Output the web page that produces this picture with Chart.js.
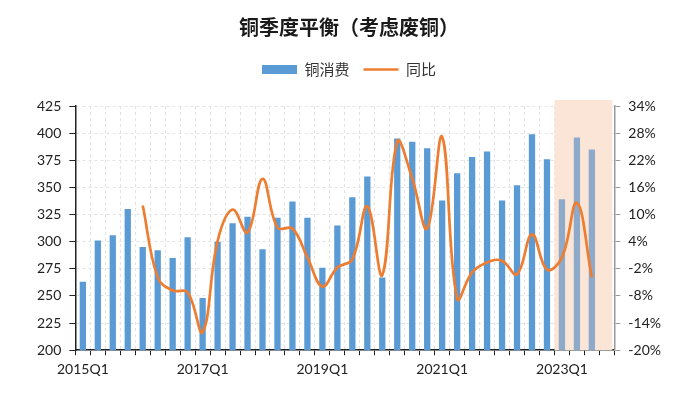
<!DOCTYPE html>
<html>
<head>
<meta charset="utf-8">
<script src="https://cdn.jsdelivr.net/npm/chart.js@4"></script>
<style>
  body { margin: 0; background: #fff; }
  #wrap { width: 700px; height: 407px; }
</style>
</head>
<body>
<div id="wrap"><canvas id="copper-chart" width="700" height="407"></canvas></div>
<script>
// ------------------------
// DATA
// ------------------------

const quarters = [
  '2015Q1', '2015Q2', '2015Q3', '2015Q4',
  '2016Q1', '2016Q2', '2016Q3', '2016Q4',
  '2017Q1', '2017Q2', '2017Q3', '2017Q4',
  '2018Q1', '2018Q2', '2018Q3', '2018Q4',
  '2019Q1', '2019Q2', '2019Q3', '2019Q4',
  '2020Q1', '2020Q2', '2020Q3', '2020Q4',
  '2021Q1', '2021Q2', '2021Q3', '2021Q4',
  '2022Q1', '2022Q2', '2022Q3', '2022Q4',
  '2023Q1', '2023Q2', '2023Q3', '2023Q4'
]

// 铜消费
const consumption = [
  263, 301, 306, 330, 295, 292, 285, 304,
  248, 300, 317, 323, 293, 322, 337, 322,
  276, 315, 341, 360, 267, 395, 392, 386,
  338, 363, 378, 383, 338, 352, 399, 376,
  339, 396, 385, null
]

// 同比 (%)
const yoy = [
  null, null, null, null, 12.0, -3.9, -6.8, -7.2,
  -16.0, 4.1, 11.1, 6.0, 17.9, 7.1, 6.9, 0.5,
  -5.9, -1.7, 0.1, 11.8, -3.4, 26.1, 18.0, 6.9,
  27.2, -8.6, -2.8, -0.6, -0.2, -3.2, 5.6, -2.2,
  0.5, 12.6, -3.9, null
]

const leftTicks = [200, 225, 250, 275, 300, 325, 350, 375, 400, 425]
const rightTicks = [-20, -14, -8, -2, 4, 10, 16, 22, 28, 34]

// first forecast quarter (shaded)
const forecastStart = '2023Q1'

// ------------------------
// CHART
// ------------------------

const numFont = "Lato, 'Noto Sans CJK SC', sans-serif"
const cnFont = "'Noto Sans CJK SC', sans-serif"
const forecastIndex = quarters.indexOf(forecastStart)

const barColors = quarters.map((q, i) => i >= forecastIndex ? '#8eaacb' : '#5b9bd5')

// shaded forecast area behind the bars
const forecastShade = {
  id: 'forecastShade',
  beforeDatasetsDraw(chart) {
    const x = chart.scales.x
    const area = chart.chartArea
    const step = x.getPixelForValue(1) - x.getPixelForValue(0)
    const left = x.getPixelForValue(forecastIndex) - step / 2
    const ctx = chart.ctx
    ctx.save()
    ctx.fillStyle = '#fbe5d6'
    ctx.fillRect(left, area.top - 6, area.right - left - 2, area.bottom - area.top + 6)
    ctx.restore()
  }
}

// extra room between legend and plot
const legendGap = {
  id: 'legendGap',
  beforeInit(chart) {
    const fit = chart.legend.fit
    chart.legend.fit = function () {
      fit.bind(chart.legend)()
      this.height += 19
    }
  }
}

const copperCanvas = document.querySelector('#copper-chart')

let copperChart = new Chart(copperCanvas, {
  type: 'bar',
  data: {
    labels: quarters,
    datasets: [{
      type: 'line',
      label: '同比',
      data: yoy,
      yAxisID: 'y1',
      borderColor: '#ed7d31',
      backgroundColor: '#ed7d31',
      borderWidth: 2.7,
      pointRadius: 0,
      tension: 0.4,
      pointStyle: 'line',
      order: 0
    }, {
      label: '铜消费',
      data: consumption,
      yAxisID: 'y',
      backgroundColor: barColors,
      barPercentage: 0.42,
      categoryPercentage: 1,
      pointStyle: 'rect',
      order: 1
    }]
  },
  options: {
    responsive: false,
    animation: false,
    layout: {
      padding: { left: 29, right: 31, top: 8, bottom: 23 }
    },
    plugins: {
      title: {
        display: true,
        text: '铜季度平衡（考虑废铜）',
        color: '#1a1a1a',
        font: { family: cnFont, size: 20, weight: 'bold' },
        padding: { top: 7, bottom: 9 }
      },
      legend: {
        reverse: true,
        labels: {
          usePointStyle: true,
          pointStyleWidth: 35,
          boxHeight: 9,
          color: '#333',
          font: { family: cnFont, size: 15 },
          padding: 14
        }
      },
      tooltip: { enabled: false }
    },
    scales: {
      x: {
        grid: {
          offset: true,
          color: '#e3e3e3',
          tickColor: '#222',
          tickLength: 5
        },
        border: { color: '#222', width: 1.5, dash: [3, 3] },
        ticks: {
          autoSkip: false,
          maxRotation: 0,
          color: '#222',
          font: { family: numFont, size: 14 },
          padding: 6,
          callback: function (value, index) {
            return index % 8 === 0 ? this.getLabelForValue(value) : ''
          }
        }
      },
      y: {
        position: 'left',
        min: 200,
        max: 425,
        afterBuildTicks: axis => { axis.ticks = leftTicks.map(v => ({ value: v })) },
        grid: {
          color: '#e3e3e3',
          tickColor: '#222',
          tickLength: 6
        },
        border: { color: '#222', width: 1.5, dash: [3, 3] },
        ticks: {
          color: '#222',
          font: { family: numFont, size: 14 },
          padding: 8
        }
      },
      y1: {
        position: 'right',
        min: -20,
        max: 34,
        afterBuildTicks: axis => { axis.ticks = rightTicks.map(v => ({ value: v })) },
        grid: {
          drawOnChartArea: false,
          tickColor: '#999',
          tickLength: 6
        },
        border: { color: '#999', width: 1.5 },
        ticks: {
          color: '#222',
          font: { family: numFont, size: 14 },
          padding: 8,
          callback: v => v + '%'
        }
      }
    }
  },
  plugins: [forecastShade, legendGap]
})
</script>
</body>
</html>
